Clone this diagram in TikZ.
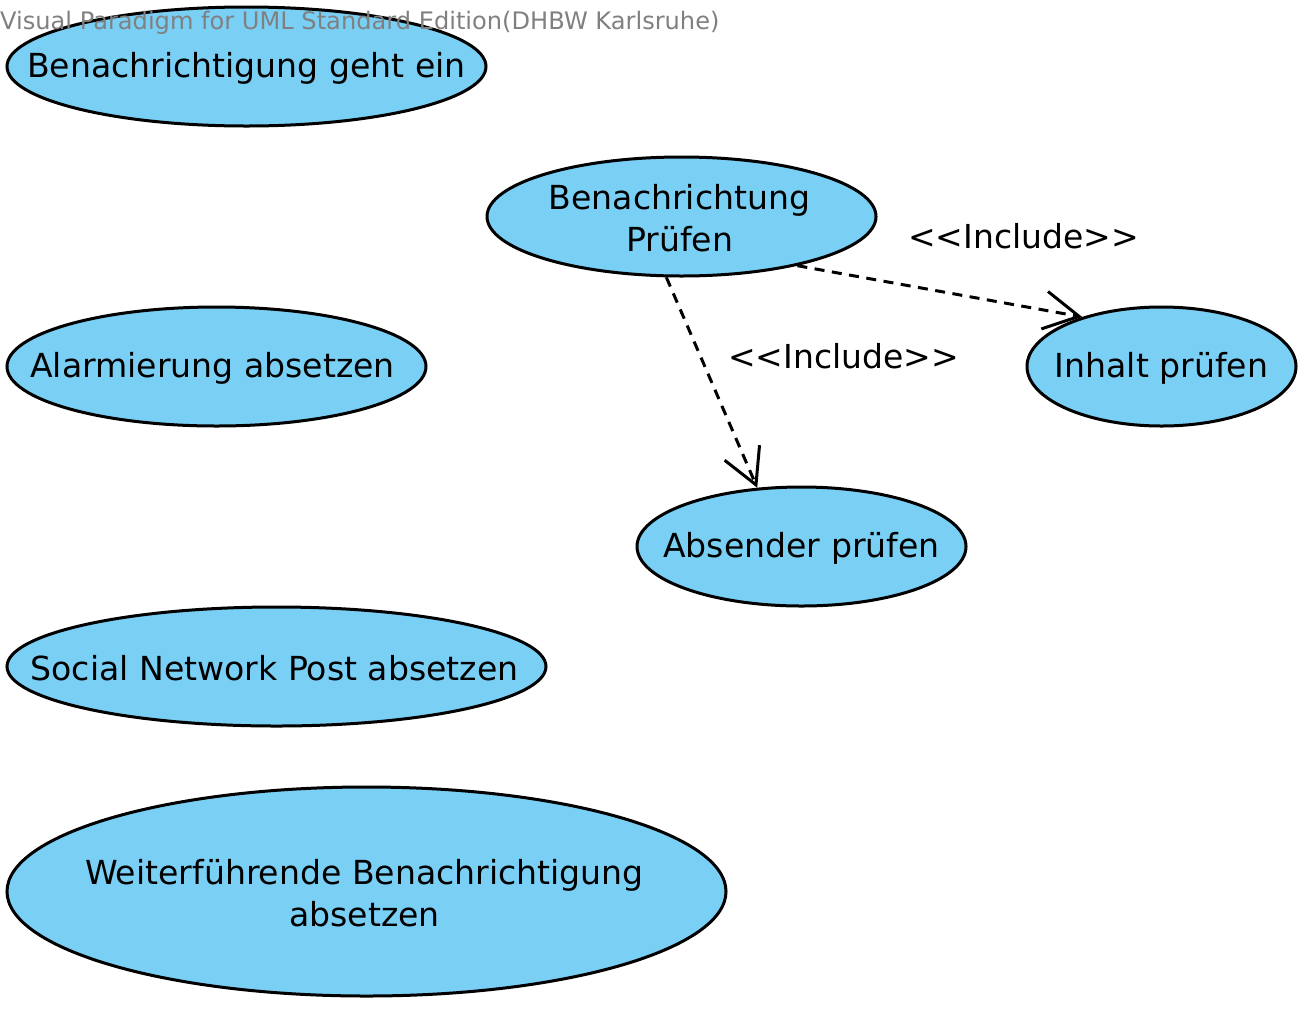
\documentclass[tikz,border=0pt]{standalone}
\usepackage{fontspec}
\setmainfont{DejaVu Sans}
\usetikzlibrary{shapes.geometric,arrows.meta}
\definecolor{ucfill}{HTML}{7ACFF5}
\definecolor{hdr}{HTML}{808080}
\tikzset{
  usecase/.style={ellipse, draw=black, fill=ucfill, line width=3bp, inner sep=0pt},
  uctext/.style={align=center, inner sep=0pt, yshift=-2bp, font=\fontsize{33.1bp}{42bp}\selectfont},
  incl/.style={draw=black, line width=3bp, dash pattern=on 10bp off 7.5bp,
    -{Straight Barb[length=35bp,width=38bp,line width=3bp]}},
  lbl/.style={font=\fontsize{33bp}{42bp}\selectfont, inner sep=0pt},
}
\begin{document}
\begin{tikzpicture}[x=1bp,y=-1bp]
\useasboundingbox (0,0) rectangle (1308,1008);
\node[usecase, minimum width=479bp, minimum height=119bp] (geht) at (246.5,66.5) {};
\node[uctext] (tgeht) at (geht.center) {Benachrichtigung geht ein};
\node[anchor=base west, inner sep=0pt, text=hdr, font=\fontsize{24.1bp}{28bp}\selectfont] (hdr) at (0,29) {Visual Paradigm for UML Standard Edition(DHBW Karlsruhe)};
\node[usecase, minimum width=389bp, minimum height=119bp] (pruef) at (681.5,216.5) {};
\node[uctext, xshift=-2bp] (tpruef) at (pruef.center) {Benachrichtung\\Prüfen};
\node[usecase, minimum width=419bp, minimum height=119bp] (alarm) at (216.5,366.5) {};
\node[uctext, xshift=-4bp] (talarm) at (alarm.center) {Alarmierung absetzen};
\node[usecase, minimum width=269bp, minimum height=119bp] (inhalt) at (1161.5,366.5) {};
\node[uctext] (tinhalt) at (inhalt.center) {Inhalt prüfen};
\node[usecase, minimum width=329bp, minimum height=119bp] (absender) at (801.5,546.5) {};
\node[uctext] (tabsender) at (absender.center) {Absender prüfen};
\node[usecase, minimum width=539bp, minimum height=119bp] (social) at (276.5,666.5) {};
\node[uctext, xshift=-2bp] (tsocial) at (social.center) {Social Network Post absetzen};
\node[usecase, minimum width=719bp, minimum height=209bp] (weiter) at (366.5,891.5) {};
\node[uctext, xshift=-2bp] (tweiter) at (weiter.center) {Weiterführende Benachrichtigung\\absetzen};
\draw[incl] (pruef.256.7) -- (absender.127.8);
\draw[incl] (pruef.337) -- (inhalt.148.4);
\node[lbl, anchor=base west] (l1) at (908,248) {<{}<Include>{}>};
\node[lbl, anchor=base west] (l2) at (728,368) {<{}<Include>{}>};
\end{tikzpicture}
\end{document}
